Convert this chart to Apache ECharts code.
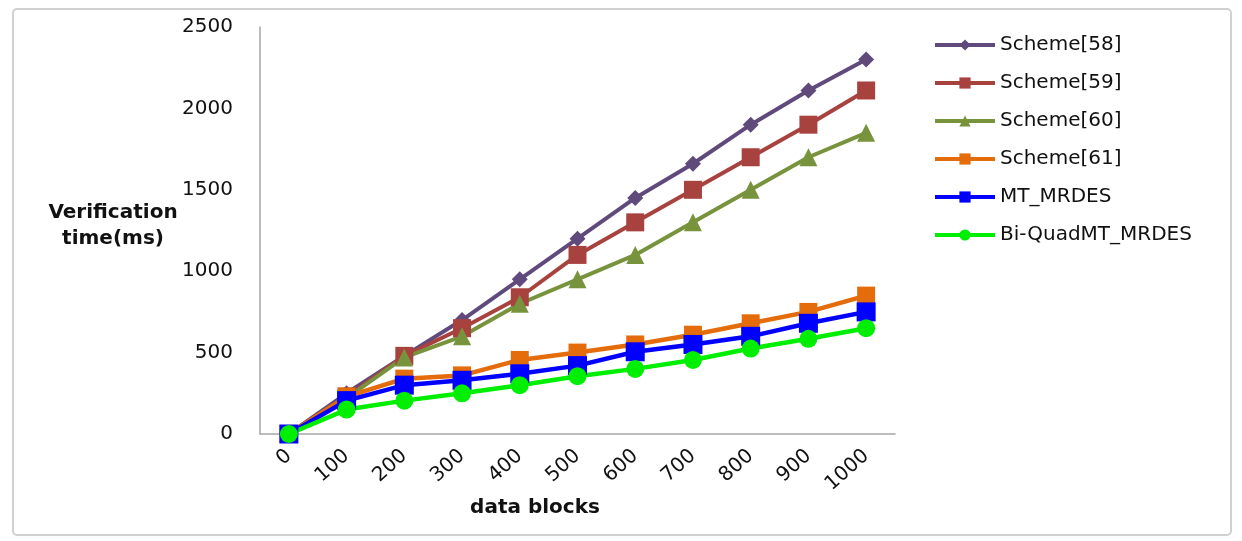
<!DOCTYPE html>
<html><head><meta charset="utf-8">
<script src="https://cdn.jsdelivr.net/npm/echarts@6/dist/echarts.min.js"></script>
<style>html,body{margin:0;padding:0;background:#fff}#c{width:1242px;height:541px}</style>
</head><body><div id="c"></div>
<script>
const categories = ['0','100','200','300','400','500','600','700','800','900','1000'];
const scheme58 = [0, 250, 480, 700, 950, 1200, 1450, 1660, 1900, 2110, 2300];
const scheme59 = [0, 230, 480, 650, 840, 1100, 1300, 1500, 1700, 1900, 2110];
const scheme60 = [0, 220, 470, 600, 800, 950, 1100, 1300, 1500, 1700, 1850];
const scheme61 = [0, 230, 340, 360, 455, 500, 550, 610, 680, 750, 850];
const mtMrdes = [0, 205, 300, 330, 370, 420, 505, 550, 600, 680, 750];
const biQuad = [0, 150, 205, 250, 300, 355, 400, 455, 525, 585, 650];
const yTicks = [0, 500, 1000, 1500, 2000, 2500];

const FONT = 'DejaVu Sans';
const chart = echarts.init(document.getElementById('c'));
function s(name, data, color, symbol, size, width) {
  return { name, type: 'line', data, symbol, symbolSize: size,
    lineStyle: { color, width }, itemStyle: { color }, animation: false };
}
chart.setOption({
  animation: false,
  grid: { left: 260, right: 347, top: 27, bottom: 107 },
  legend: {
    orient: 'vertical', left: 928, top: 30, itemWidth: 60, itemHeight: 14, itemGap: 18,
    lineStyle: { width: 4 },
    textStyle: { fontFamily: FONT, fontSize: 20, color: '#111' },
    data: ['Scheme[58]','Scheme[59]','Scheme[60]','Scheme[61]','MT_MRDES','Bi-QuadMT_MRDES']
  },
  xAxis: {
    type: 'category', data: categories, boundaryGap: true,
    axisLine: { lineStyle: { color: '#a6a6a6', width: 1.5 } },
    axisTick: { show: false },
    axisLabel: { rotate: 42, fontFamily: FONT, fontSize: 20, color: '#111', margin: 19 }
  },
  yAxis: {
    type: 'value', min: 0, max: 2500, interval: 500,
    axisLine: { show: true, lineStyle: { color: '#a6a6a6', width: 1.5 } },
    axisTick: { show: false }, splitLine: { show: false },
    axisLabel: { fontFamily: FONT, fontSize: 20, color: '#111', margin: 27,
      formatter: v => yTicks.includes(v) ? String(v) : '' }
  },
  graphic: [
    { type: 'rect', shape: { x: 13, y: 9, width: 1218, height: 526, r: 4 },
      style: { fill: 'none', stroke: '#d0d0d0', lineWidth: 2 }, silent: true },
    { type: 'text', x: 113, y: 200,
      style: { text: 'Verification\ntime(ms)', fontFamily: FONT, fontSize: 20, fontWeight: 'bold',
        fill: '#111', align: 'center', verticalAlign: 'top', lineHeight: 26 } },
    { type: 'text', x: 535, y: 508,
      style: { text: 'data blocks', fontFamily: FONT, fontSize: 20, fontWeight: 'bold',
        fill: '#111', align: 'center', verticalAlign: 'middle' } }
  ],
  series: [
    s('Scheme[58]', scheme58, '#604A7B', 'diamond', 16, 4),
    s('Scheme[59]', scheme59, '#A8423F', 'rect', 18, 4),
    s('Scheme[60]', scheme60, '#77933C', 'triangle', 18, 4),
    s('Scheme[61]', scheme61, '#E46C0A', 'rect', 18, 4.5),
    s('MT_MRDES', mtMrdes, '#0000FF', 'rect', 19, 4.5),
    s('Bi-QuadMT_MRDES', biQuad, '#00EE00', 'circle', 18, 4.5)
  ]
});
</script></body></html>
